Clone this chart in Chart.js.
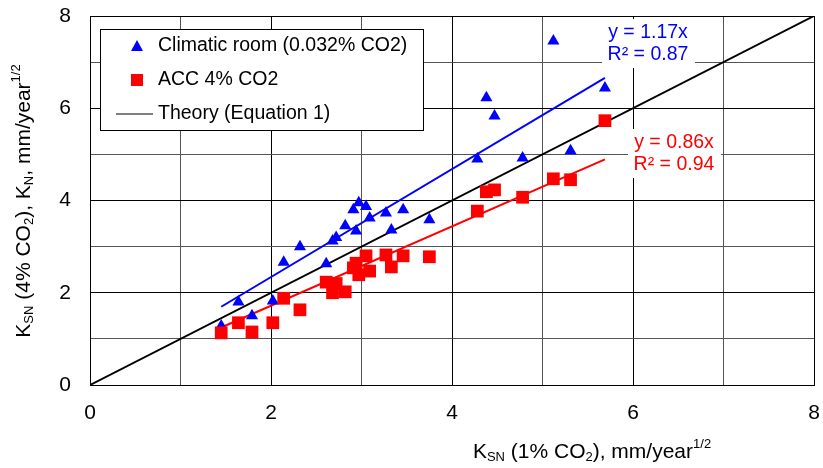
<!DOCTYPE html>
<html>
<head>
<meta charset="utf-8">
<script src="https://cdn.jsdelivr.net/npm/chart.js@4.4.1/dist/chart.umd.min.js"></script>
<style>
  html, body { margin: 0; padding: 0; background: #fff; }
  #wrap { width: 823px; height: 468px; position: relative; }
</style>
</head>
<body>
<div id="wrap"><canvas id="ksnChart" width="823" height="468"></canvas></div>
<script>
// Specimen values, K_SN at 1% CO2 (shared x for both series)
const ksn1 = [1.45, 1.64, 1.79, 2.02, 2.14, 2.32, 2.61, 2.68, 2.72, 2.82, 2.91, 2.94, 2.97,
              3.05, 3.09, 3.27, 3.33, 3.46, 3.75, 4.28, 4.38, 4.47, 4.78, 5.12, 5.31, 5.69];
// Climatic room (0.032% CO2), K_N
const climatic = [1.28, 1.80, 1.50, 1.82, 2.66, 3.00, 2.63, 3.12, 3.20, 3.45, 3.80, 3.34, 3.95,
                  3.87, 3.62, 3.73, 3.36, 3.80, 3.58, 4.90, 6.23, 5.83, 4.92, 7.46, 5.08, 6.44];
// ACC 4% CO2, K_SN
const acc4 = [1.13, 1.35, 1.15, 1.35, 1.88, 1.63, 2.23, 2.00, 2.20, 2.02, 2.54, 2.64, 2.39,
              2.80, 2.47, 2.82, 2.56, 2.80, 2.78, 3.77, 4.19, 4.23, 4.07, 4.47, 4.45, 5.73];

// Regression fits through origin
const fitClimatic = { slope: 1.17, r2: 0.87 };
const fitAcc = { slope: 0.86, r2: 0.94 };

const axisTicks = [0, 2, 4, 6, 8];
const FONT = '"Liberation Sans", Arial, sans-serif';

const pts = (xs, ys) => xs.map((x, i) => ({ x, y: ys[i] }));
const fitLine = (xs, slope) => {
    const lo = Math.min(...xs), hi = Math.max(...xs);
    return [{ x: lo, y: slope * lo }, { x: hi, y: slope * hi }];
};

// Draws text with sub/superscript parts; returns total width
function richText(ctx, parts, x, y, size, measureOnly) {
    let cx = x;
    parts.forEach(p => {
        const small = p.sub || p.sup;
        const fs = small ? Math.round(size * 0.62) : size;
        ctx.font = fs + 'px ' + FONT;
        const dy = p.sub ? size * 0.28 : (p.sup ? -size * 0.36 : 0);
        if (!measureOnly) ctx.fillText(p.t, cx, y + dy);
        cx += ctx.measureText(p.t).width;
    });
    return cx - x;
}

const xTitle = [{ t: 'K' }, { t: 'SN', sub: true }, { t: ' (1% CO' }, { t: '2', sub: true },
                { t: '), mm/year' }, { t: '1/2', sup: true }];
const yTitle = [{ t: 'K' }, { t: 'SN', sub: true }, { t: ' (4% CO' }, { t: '2', sub: true },
                { t: '), K' }, { t: 'N', sub: true }, { t: ', mm/year' }, { t: '1/2', sup: true }];

const decorations = {
    id: 'decorations',
    afterDraw(chart) {
        const ctx = chart.ctx;
        ctx.save();
        ctx.fillStyle = '#000';
        ctx.textBaseline = 'middle';
        ctx.textAlign = 'left';

        // axis titles
        const wx = richText(ctx, xTitle, 0, 0, 21, true);
        richText(ctx, xTitle, 592 - wx / 2, 452, 21);
        ctx.save();
        ctx.translate(24, 201);
        ctx.rotate(-Math.PI / 2);
        const wy = richText(ctx, yTitle, 0, 0, 21, true);
        richText(ctx, yTitle, -wy / 2, 0, 21);
        ctx.restore();

        // legend box
        ctx.fillStyle = '#fff';
        ctx.fillRect(100, 29, 323, 101);
        ctx.strokeStyle = '#000';
        ctx.lineWidth = 1;
        ctx.strokeRect(100.5, 29.5, 323, 101);
        ctx.fillStyle = '#0000ff';
        ctx.beginPath();
        ctx.moveTo(137, 40); ctx.lineTo(143, 51); ctx.lineTo(131, 51); ctx.closePath();
        ctx.fill();
        ctx.fillStyle = '#ff0000';
        ctx.fillRect(131, 74, 12, 12);
        ctx.strokeStyle = '#000';
        ctx.beginPath();
        ctx.moveTo(116, 114); ctx.lineTo(153, 114); ctx.stroke();
        ctx.fillStyle = '#000';
        ctx.font = '19.5px ' + FONT;
        ctx.fillText('Climatic room (0.032% CO2)', 158, 46);
        ctx.fillText('ACC 4% CO2', 158, 80);
        ctx.fillText('Theory (Equation 1)', 158, 114);

        // fit labels
        const label = (fit, color, cx, cy) => {
            ctx.fillStyle = '#fff';
            ctx.fillRect(cx - 46, cy - 25, 93, 49);
            ctx.fillStyle = color;
            ctx.textAlign = 'center';
            ctx.font = '19.5px ' + FONT;
            ctx.fillText('y = ' + fit.slope.toFixed(2) + 'x', cx, cy - 11);
            ctx.fillText('R\u00b2 = ' + fit.r2.toFixed(2), cx, cy + 11);
        };
        label(fitClimatic, '#0000ff', 648, 44);
        label(fitAcc, '#ff0000', 674, 154);
        ctx.restore();
    }
};

const gridColor = c => (c.tick && c.tick.value % 2 === 0 ? '#000' : '#555');
const tickLabel = v => (axisTicks.includes(v) ? String(v) : '');
const noPad = s => { s.paddingTop = 0; s.paddingBottom = 0; s.paddingLeft = 0; s.paddingRight = 0; };

new Chart(document.getElementById('ksnChart'), {
    type: 'scatter',
    data: {
        datasets: [
            {
                label: 'ACC 4% CO2',
                data: pts(ksn1, acc4),
                pointStyle: 'rect',
                pointRadius: 9,
                backgroundColor: '#ff0000',
                borderColor: '#ff0000',
                borderWidth: 0,
                order: 0
            },
            {
                label: 'Climatic room (0.032% CO2)',
                data: pts(ksn1, climatic),
                pointStyle: 'triangle',
                pointRadius: 7,
                backgroundColor: '#0000ff',
                borderColor: '#0000ff',
                borderWidth: 0,
                order: 1
            },
            {
                type: 'line',
                data: fitLine(ksn1, fitClimatic.slope),
                borderColor: '#0000ff',
                borderWidth: 2,
                pointRadius: 0,
                order: 2
            },
            {
                type: 'line',
                data: fitLine(ksn1, fitAcc.slope),
                borderColor: '#ff0000',
                borderWidth: 2,
                pointRadius: 0,
                order: 2
            },
            {
                label: 'Theory (Equation 1)',
                type: 'line',
                data: [{ x: 0, y: 0 }, { x: 8, y: 8 }],
                borderColor: '#000',
                borderWidth: 2,
                pointRadius: 0,
                order: 3
            }
        ]
    },
    options: {
        responsive: false,
        animation: false,
        layout: { padding: { top: 16, right: 7, left: 0, bottom: 0 } },
        plugins: { legend: { display: false }, tooltip: { enabled: false } },
        scales: {
            x: {
                type: 'linear',
                min: 0, max: 8,
                afterFit: s => { s.height = 83; noPad(s); },
                border: { color: '#000', width: 1 },
                grid: { color: gridColor, drawTicks: false, lineWidth: 1 },
                ticks: { stepSize: 1, autoSkip: false, maxRotation: 0, padding: 16,
                         color: '#000', font: { family: FONT, size: 21 }, callback: tickLabel }
            },
            y: {
                type: 'linear',
                min: 0, max: 8,
                afterFit: s => { s.width = 90; noPad(s); },
                border: { color: '#000', width: 1 },
                grid: { color: gridColor, drawTicks: false, lineWidth: 1 },
                ticks: { stepSize: 1, autoSkip: false, padding: 19,
                         color: '#000', font: { family: FONT, size: 21 }, callback: tickLabel }
            }
        }
    },
    plugins: [decorations]
});
</script>
</body>
</html>
